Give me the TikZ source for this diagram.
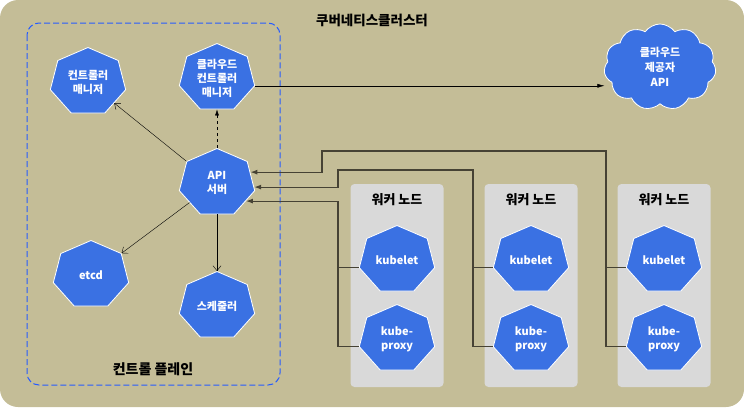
\documentclass[tikz,border=0pt]{standalone}
\usepackage{fontspec}
\setmainfont{Noto Sans CJK KR}
\newfontfamily\heptfont[FakeStretch=0.893]{Noto Sans CJK KR}
\usetikzlibrary{calc,shapes.geometric,shapes.symbols,arrows.meta}

\definecolor{clustertan}{RGB}{196,189,151}
\definecolor{kubeblue}{RGB}{58,113,227}
\definecolor{planeblue}{RGB}{38,92,255}
\definecolor{nodegray}{RGB}{217,217,217}
\definecolor{wiregray}{RGB}{70,66,52}

\tikzset{
  hept/.style={regular polygon, regular polygon sides=7, minimum size=69pt,
    inner sep=0pt, xscale=1.12, transform shape, fill=kubeblue, draw=white,
    line width=0.8pt, text=white, align=center,
    font=\heptfont\bfseries\fontsize{11}{14}\selectfont},
  cloudy/.style={cloud, cloud puffs=11, cloud puff arc=110, aspect=1.3,
    minimum width=112pt, minimum height=86pt, inner sep=0pt, fill=kubeblue,
    draw=white, line width=0.8pt, text=white, align=center,
    font=\bfseries\fontsize{11}{15}\selectfont},
  wbox/.style={fill=nodegray, rounded corners=4pt, minimum width=93pt,
    minimum height=203pt, inner sep=0pt},
  wire/.style={wiregray, line width=1.1pt},
  barb/.style={-{Straight Barb[length=5pt,width=8pt]}},
}

\begin{document}
\begin{tikzpicture}[x=1pt,y=-1pt]

% Cluster background.
\useasboundingbox (0,0) rectangle (744,407);
\fill[clustertan, rounded corners=18pt] (0,0) rectangle (744,407);
\node[font=\bfseries\fontsize{13.5}{16}\selectfont] (title) at (372,20) {쿠버네티스클러스터};

% Control plane box.
\draw[planeblue, dash pattern=on 6pt off 3pt, line width=1pt, rounded corners=12pt]
    (27,23) rectangle (280,385);
\node[font=\bfseries\fontsize{14}{16}\selectfont] (cplabel) at (153,369) {컨트롤 플레인};

% Control plane parts.
\node[hept] (cm) at (88,82) {컨트롤러\\매니저};
\node[hept] (ccm) at (217,78) {클라우드\\컨트롤러\\매니저};
\node[hept] (api) at (217,183) {API\\서버};
\node[hept] (etcd) at (91,275) {etcd};
\node[hept] (sched) at (217,306) {스케줄러};

% Cloud provider.
\node[cloudy] (cloudapi) at (660,67) {클라우드\\제공자\\API};

% API server links.
\draw[barb] (api.corner 2) -- (cm);
\draw[-{Latex[length=6pt,width=4pt]}, dashed] (api.corner 1) -- (ccm.side 4);
\draw[barb] (api.side 3) -- (etcd.corner 7);
\draw[barb] (api.side 4) -- (sched.corner 1);
\draw[-{Latex[length=7pt,width=4pt]}] (ccm.corner 6) -- (ccm.corner 6 -| cloudapi.west);

% Loop for each worker node.
\foreach \i/\x/\bx in {1/397/338, 2/531/473, 3/664/606} {

    % Box, title and parts.
    \node[wbox] (worker\i) at (\x,285.5) {};
    \node[font=\bfseries\fontsize{13}{15}\selectfont] (wlabel\i) at (\x,200) {워커 노드};
    \node[hept] (kubelet\i) at (\x,260) {kubelet};
    \node[hept] (proxy\i) at (\x,339) {kube-\\proxy};

    % Branch from kubelet to bus.
    \draw[wire] (kubelet\i.corner 3) -- (kubelet\i.corner 3 -| \bx,0);
}

% Buses back to API server.
\draw[wire, {Latex[length=7pt,width=5pt]}-] (api.20) -| (322,151) -- (606,151) |- (proxy3.corner 3);
\draw[wire, {Latex[length=7pt,width=5pt]}-] (api.-7) -| (338,170) -- (473,170) |- (proxy2.corner 3);
\draw[wire, {Latex[length=7pt,width=5pt]}-] (api.-35) -- (api.-35 -| 338,0) |- (proxy1.corner 3);

\end{tikzpicture}
\end{document}
